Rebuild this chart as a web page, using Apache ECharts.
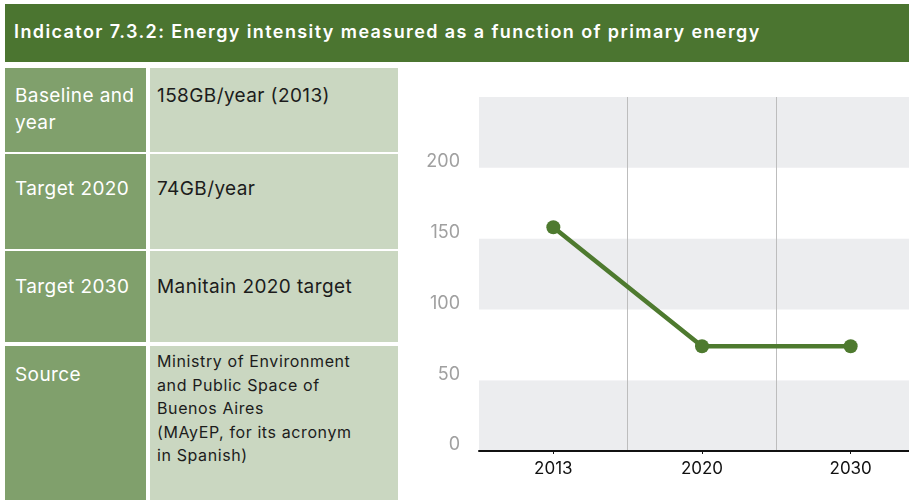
<!DOCTYPE html>
<html>
<head>
<meta charset="utf-8">
<script src="https://cdn.jsdelivr.net/npm/echarts@6/dist/echarts.min.js"></script>
<style>
  body { margin: 0; width: 909px; height: 504px; position: relative; background: #fff; font-family: Inter, "Noto Sans", sans-serif; overflow: hidden; }
  .header { position: absolute; left: 5px; top: 4px; width: 904px; height: 58px; background: #4b7530; color: #fff; font-weight: 600; font-size: 18px; letter-spacing: 1.4px; line-height: 56px; padding-left: 9px; box-sizing: border-box; white-space: nowrap; }
  .cell { position: absolute; box-sizing: border-box; font-size: 19px; letter-spacing: 0.4px; }
  .key { left: 5px; width: 141px; background: #80a06c; color: #fff; padding: 0 0 0 10px; }
  .val { left: 150px; width: 248px; background: #cad7c1; color: #1c1c1c; padding: 0 0 0 7px; }
  .chart { position: absolute; left: 400px; top: 60px; width: 509px; height: 444px; }
</style>
</head>
<body>
<div class="header">Indicator 7.3.2: Energy intensity measured as a function of primary energy</div>
<div id="table"></div>
<div id="chart" class="chart"></div>
<script>
const rowKeys = ['Baseline and year', 'Target 2020', 'Target 2030', 'Source'];
const rowValues = ['158GB/year (2013)', '74GB/year', 'Manitain 2020 target',
  'Ministry of Environment\nand Public Space of\nBuenos Aires\n(MAyEP, for its acronym\nin Spanish)'];
const years = ['2013', '2020', '2030'];
const intensity = [158, 74, 74];

// table rows: top, height, text offset
const rows = [
  {top: 68, h: 84, pad: 14},
  {top: 154, h: 95, pad: 21},
  {top: 251, h: 91, pad: 22},
  {top: 346, h: 154, pad: 15}
];
const table = document.getElementById('table');
rows.forEach((r, i) => {
  const k = document.createElement('div');
  k.className = 'cell key';
  k.style.cssText = `top:${r.top}px;height:${r.h}px;padding-top:${r.pad}px;line-height:27px;`;
  k.textContent = rowKeys[i];
  table.appendChild(k);
  const v = document.createElement('div');
  v.className = 'cell val';
  v.textContent = rowValues[i];
  if (i === 3) {
    v.style.cssText = `top:${r.top}px;height:${r.h}px;padding-top:4px;font-size:16px;letter-spacing:0.6px;line-height:23.5px;white-space:pre;`;
  } else {
    v.style.cssText = `top:${r.top}px;height:${r.h}px;padding-top:${r.pad}px;line-height:27px;`;
  }
  table.appendChild(v);
});

const chart = echarts.init(document.getElementById('chart'));
chart.setOption({
  animation: false,
  // plot runs past the right edge, as in the original
  grid: {left: 79, top: 37, width: 446, bottom: 53, outerBoundsMode: 'none'},
  xAxis: {
    type: 'category',
    data: years,
    boundaryGap: true,
    axisLine: {lineStyle: {color: '#111', width: 2}},
    axisTick: {show: true, alignWithLabel: true, length: 3, lineStyle: {color: '#111'}},
    axisLabel: {color: '#111', fontSize: 17, fontFamily: 'Inter', margin: 9},
    splitLine: {show: true, showMinLine: false, showMaxLine: false, lineStyle: {color: '#bdbdbd', width: 1}}
  },
  yAxis: {
    type: 'value',
    min: 0,
    max: 250,
    interval: 50,
    axisLine: {show: false},
    axisTick: {show: false},
    axisLabel: {
      color: '#a0a0a0', fontSize: 18, fontFamily: 'Inter', margin: 19,
      verticalAlign: 'bottom', lineHeight: 12,
      formatter: v => (v === 250 ? '' : v)
    },
    splitLine: {show: false},
    splitArea: {show: true, areaStyle: {color: ['#ecedef', '#ffffff']}}
  },
  series: [{
    type: 'line',
    data: intensity,
    symbol: 'circle',
    symbolSize: 14,
    lineStyle: {color: '#4e7a2f', width: 4.5},
    itemStyle: {color: '#4e7a2f'}
  }]
});
</script>
</body>
</html>
